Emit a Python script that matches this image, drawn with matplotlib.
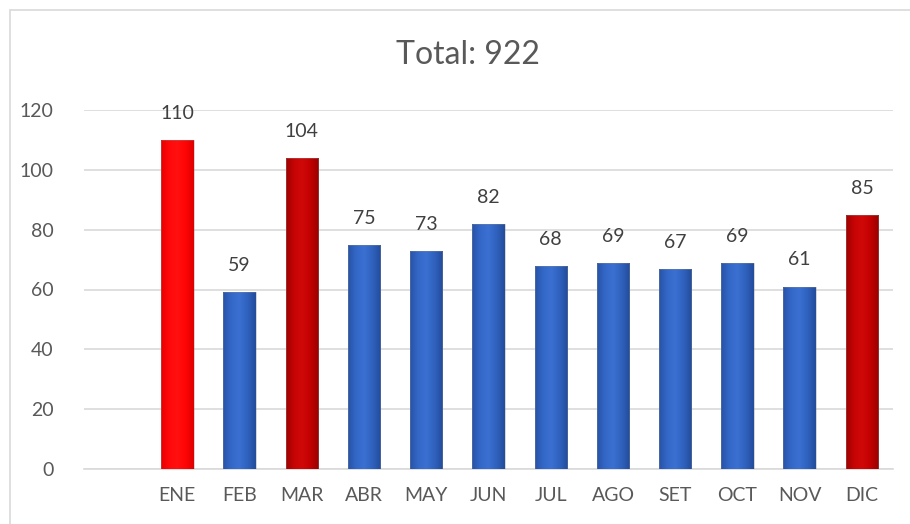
import numpy as np
import matplotlib
matplotlib.use("Agg")
import matplotlib.pyplot as plt
from matplotlib.colors import LinearSegmentedColormap
from matplotlib.patches import Rectangle

months = ["ENE", "FEB", "MAR", "ABR", "MAY", "JUN", "JUL", "AGO", "SET", "OCT", "NOV", "DIC"]
values = [110, 59, 104, 75, 73, 82, 68, 69, 67, 69, 61, 85]
bar_colors = ["bright", "blue", "dark", "blue", "blue", "blue", "blue", "blue", "blue", "blue", "blue", "dark"]
title = "Total: 922"
yticks = [0, 20, 40, 60, 80, 100, 120]

plt.rcParams['font.family'] = ['Lato', 'DejaVu Sans']
txt = "#595959"

fig = plt.figure(figsize=(9.10, 5.24), dpi=100)
fig.patch.set_facecolor("white")
# chart frame
fig.add_artist(Rectangle((10/910, -0.1), 1.2, (524-10)/524 + 0.1, transform=fig.transFigure,
                         fill=False, edgecolor="#D9D9D9", linewidth=1.2))

ax = fig.add_axes([84/910, 55/524, (893-84)/910, (469-110)/524])
x = np.arange(1, len(months) + 1)
bars = ax.bar(x, values, width=0.52, color="none", zorder=3)

cmaps = {
    "bright": LinearSegmentedColormap.from_list("r1", ["#E80000", "#FF0A0A", "#FF1010", "#FF0505", "#E00000"]),
    "dark": LinearSegmentedColormap.from_list("r2", ["#A00000", "#C80404", "#D00808", "#C20000", "#980000"]),
    "blue": LinearSegmentedColormap.from_list("b1", ["#2753A8", "#3468C8", "#3B70D2", "#2F62BE", "#234C9C"]),
}
grad = np.linspace(0, 1, 64).reshape(1, -1)
for b, c in zip(bars, bar_colors):
    x0, y0 = b.get_x(), b.get_y()
    w, h = b.get_width(), b.get_height()
    im = ax.imshow(grad, cmap=cmaps[c], extent=(x0, x0 + w, y0, y0 + h), aspect="auto", zorder=3,
                   interpolation="bicubic")
    im.set_clip_path(b)
    ax.add_patch(Rectangle((x0, y0), w, h, fill=False, edgecolor="#8a8a8a", linewidth=0.5, alpha=0.5, zorder=4))
    ax.annotate(str(int(h)), (x0 + w / 2, y0 + h), xytext=(0, 13), textcoords="offset points",
                ha="center", va="bottom", fontsize=14, color="#404040")

ax.set_xlim(-0.5, 12.5)
ax.set_ylim(0, 120)
ax.set_yticks(yticks)
ax.set_xticks(x)
ax.set_xticklabels(months)
ax.tick_params(axis="both", length=0, labelsize=14, colors=txt)
ax.tick_params(axis="y", pad=22)
ax.tick_params(axis="x", pad=13)
ax.grid(axis="y", color="#D9D9D9", linewidth=1.2, zorder=0)
for s in ["left", "right", "top"]:
    ax.spines[s].set_visible(False)
ax.spines["bottom"].set_color("#D9D9D9")
ax.spines["bottom"].set_linewidth(1.2)
ax.set_axisbelow(True)

fig.text(0.514, (524 - 55) / 524, title, ha="center", va="center", fontsize=23, color=txt)

fig.savefig("out.png", dpi=100, facecolor="white")
